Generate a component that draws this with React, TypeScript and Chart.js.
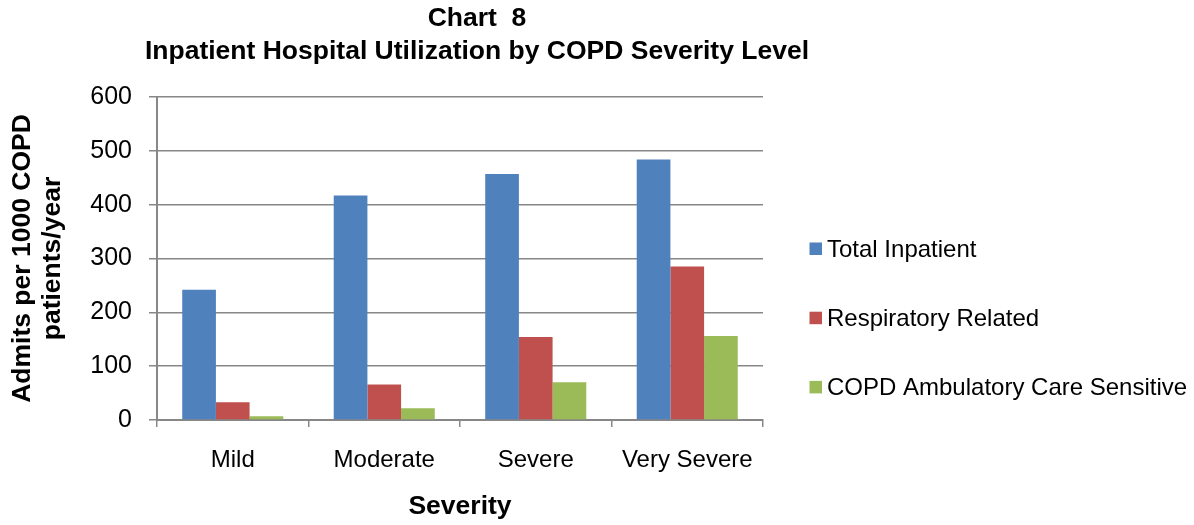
import React, { useEffect, useRef } from 'react';
import { Chart, registerables } from 'chart.js';

Chart.register(...registerables);

const titleLines = ['Chart  8', 'Inpatient Hospital Utilization by COPD Severity Level'];
const categories = ['Mild', 'Moderate', 'Severe', 'Very Severe'];
const seriesNames = ['Total Inpatient', 'Respiratory Related', 'COPD Ambulatory Care Sensitive'];
const totalInpatient = [242, 417, 457, 484];
const respiratoryRelated = [33, 66, 154, 285];
const copdAmbulatory = [7, 22, 70, 156];
const seriesColors = ['#4F81BD', '#C0504D', '#9BBB59'];
const yMin = 0;
const yMax = 600;
const yStep = 100;
const xAxisTitle = 'Severity';
const yAxisTitle = ['Admits per 1000 COPD', 'patients/year'];

const FONT = '"Liberation Sans", Arial, sans-serif';
const GRID = '#878787';

const overlayPlugin = {
  id: 'overlayText',
  afterDraw(chart: any) {
    const ctx = chart.ctx;
    ctx.save();
    ctx.fillStyle = '#000';
    ctx.textAlign = 'center';
    ctx.textBaseline = 'alphabetic';
    ctx.font = `bold 26.5px ${FONT}`;
    ctx.fillText(titleLines[0], 477, 26);
    ctx.fillText(titleLines[1], 477, 58.5);

    ctx.font = `24px ${FONT}`;
    ctx.textAlign = 'left';
    chart.data.datasets.forEach((ds: any, i: number) => {
      const cy = 248.7 + i * 69.2;
      ctx.fillStyle = ds.backgroundColor;
      ctx.fillRect(809.5, cy - 6.2, 12.5, 12.5);
      ctx.fillStyle = '#000';
      ctx.fillText(ds.label, 827, cy + 8.3);
    });
    ctx.restore();
  },
};

export default function App() {
  const canvasRef = useRef<HTMLCanvasElement | null>(null);

  useEffect(() => {
    document.body.style.margin = '0';
    const canvas = canvasRef.current;
    if (!canvas) return;
    const chart = new Chart(canvas, {
      type: 'bar',
      data: {
        labels: categories,
        datasets: [
          { label: seriesNames[0], data: totalInpatient, backgroundColor: seriesColors[0] },
          { label: seriesNames[1], data: respiratoryRelated, backgroundColor: seriesColors[1] },
          { label: seriesNames[2], data: copdAmbulatory, backgroundColor: seriesColors[2] },
        ],
      },
      options: {
        animation: false,
        responsive: false,
        devicePixelRatio: 1,
        layout: { padding: { top: 97, left: 0, right: 431, bottom: 0 } },
        datasets: {
          bar: { barPercentage: 1.0, categoryPercentage: 0.667 },
        } as any,
        plugins: {
          legend: { display: false },
          title: { display: false },
          tooltip: { enabled: false },
        },
        scales: {
          x: {
            offset: true,
            grid: {
              offset: true,
              drawOnChartArea: false,
              drawTicks: true,
              tickLength: 7,
              color: GRID,
              lineWidth: 1.5,
            },
            border: { display: true, color: GRID, width: 2 },
            ticks: {
              color: '#000',
              font: { family: FONT, size: 24 },
              padding: 19,
              maxRotation: 0,
            },
            title: {
              display: true,
              text: xAxisTitle,
              color: '#000',
              font: { family: FONT, size: 26.5, weight: 'bold' },
              padding: { top: 0, bottom: 2 },
            },
            afterFit: (scale: any) => {
              scale.height = 105;
            },
          },
          y: {
            min: yMin,
            max: yMax,
            ticks: {
              stepSize: yStep,
              color: '#000',
              font: { family: FONT, size: 25 },
              padding: 17,
            },
            grid: {
              color: GRID,
              lineWidth: 1.5,
              drawTicks: true,
              tickLength: 8,
            },
            border: { display: true, color: GRID, width: 2 },
            title: {
              display: true,
              text: yAxisTitle,
              color: '#000',
              font: { family: FONT, size: 26.5, weight: 'bold', lineHeight: 1.13 },
              padding: { top: 8, bottom: 0 },
            },
            afterFit: (scale: any) => {
              scale.width = 157;
            },
          },
        },
      },
      plugins: [overlayPlugin],
    });
    return () => chart.destroy();
  }, []);

  return (
    <div style={{ width: 1194, height: 525 }}>
      <canvas ref={canvasRef} width={1194} height={525} style={{ display: 'block' }} />
    </div>
  );
}
